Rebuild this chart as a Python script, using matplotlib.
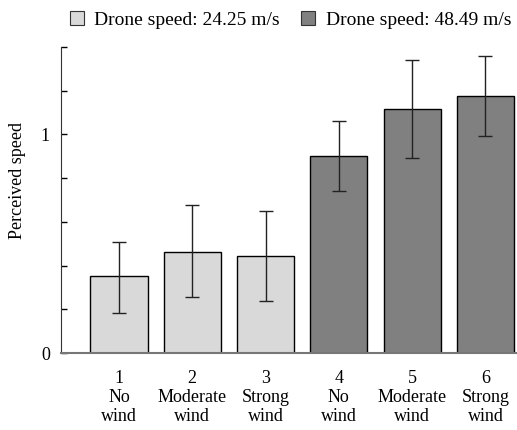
import matplotlib.pyplot as plt
from matplotlib.patches import Patch

plt.rcParams['font.family'] = ['Liberation Serif', 'DejaVu Serif']

# bar data
conditions = ["1\nNo\nwind", "2\nModerate\nwind", "3\nStrong\nwind",
              "4\nNo\nwind", "5\nModerate\nwind", "6\nStrong\nwind"]
speed = [0.35, 0.463, 0.442, 0.899, 1.117, 1.174]
err_low = [0.183, 0.254, 0.237, 0.739, 0.894, 0.994]
err_high = [0.51, 0.676, 0.65, 1.06, 1.34, 1.36]
groups = ["Drone speed: 24.25 m/s", "Drone speed: 48.49 m/s"]
group_colors = ["#d9d9d9", "#808080"]
bar_group = [0, 0, 0, 1, 1, 1]

fig = plt.figure(figsize=(5.17, 4.30), dpi=100)
ax = fig.add_axes([0.118, 0.179, 0.882, 0.712])

x = list(range(1, len(speed) + 1))
yerr = [[s - lo for s, lo in zip(speed, err_low)],
        [hi - s for s, hi in zip(speed, err_high)]]
ax.bar(x, speed, width=0.78, color=[group_colors[g] for g in bar_group],
       edgecolor='black', linewidth=1.0, zorder=2)
ax.errorbar(x, speed, yerr=yerr, fmt='none', ecolor='#222222',
            elinewidth=1.0, capsize=5, capthick=1.0, zorder=3)

ax.set_xlim(0.21, 6.43)
ax.set_ylim(0, 1.4)
ax.set_xticks(x)
ax.set_xticklabels(conditions, fontsize=13, linespacing=1.15)
ax.tick_params(axis='x', length=0, pad=12)
ax.set_yticks([0, 0.2, 0.4, 0.6, 0.8, 1.0, 1.2, 1.4])
ax.set_yticklabels(['0', '', '', '', '', '1', '', ''], fontsize=13)
ax.tick_params(axis='y', direction='in', length=4, width=1, pad=8)
ax.set_ylabel('Perceived speed', fontsize=13)
# label sits a bit above the axes centre in the reference
ax.yaxis.set_label_coords(-0.076, 0.565)

ax.spines['top'].set_visible(False)
ax.spines['right'].set_visible(False)
ax.spines['left'].set_color('#333333')
ax.spines['bottom'].set_color('#777777')
ax.spines['bottom'].set_linewidth(1.5)

handles = [Patch(facecolor=c, edgecolor='#333333', linewidth=0.8) for c in group_colors]
fig.legend(handles, groups, loc='center', bbox_to_anchor=(0.562, 0.953), ncol=2,
           frameon=False, fontsize=14, handlelength=0.72, handleheight=0.72,
           handletextpad=0.55, columnspacing=1.1, borderpad=0)

fig.savefig('out.png', dpi=100)
